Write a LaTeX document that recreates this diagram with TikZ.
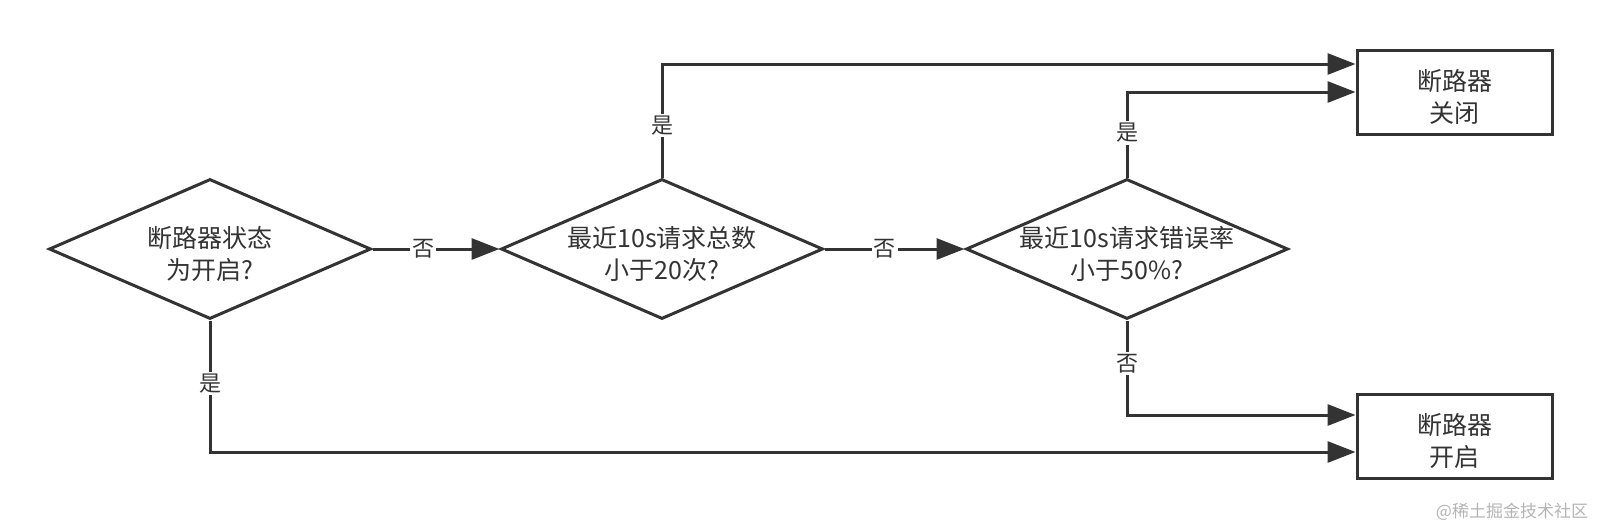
\documentclass[tikz,border=0pt]{standalone}
\usepackage{fontspec}
\setmainfont{Noto Sans CJK SC}
\usetikzlibrary{shapes.geometric,arrows.meta,calc}
\definecolor{ink}{HTML}{333333}
\definecolor{wmark}{HTML}{B4B4B4}
\begin{document}
\begin{tikzpicture}[x=1pt,y=-1pt,
  dec/.style={diamond, draw=ink, line width=3pt, minimum width=322pt, minimum height=140pt, inner sep=0pt, fill=white},
  res/.style={rectangle, draw=ink, line width=3pt, minimum width=195pt, minimum height=84pt, inner sep=0pt},
  txt/.style={align=center, text=ink, font=\fontsize{25}{32}\selectfont, inner sep=0pt},
  lbl/.style={fill=white, inner sep=2pt, text=ink, font=\fontsize{22}{24}\selectfont},
  arr/.style={draw=ink, line width=3pt, -{Triangle[length=28pt,width=21pt]}}]
\useasboundingbox (0,0) rectangle (1601,528);
% decisions
\node[dec] (d1) at (210,249) {};
\node[txt,yshift=-5pt] (t1) at (d1) {断路器状态\\为开启?};
\node[dec] (d2) at (662,249) {};
\node[txt,yshift=-5pt] (t2) at (d2) {最近10s请求总数\\小于20次?};
\node[dec] (d3) at (1127,249) {};
\node[txt,yshift=-5pt] (t3) at (d3) {最近10s请求错误率\\小于50\%?};
% results
\node[res] (b1) at (1454.5,92) {};
\node[txt,yshift=-5pt] (tb1) at (b1) {断路器\\关闭};
\node[res] (b2) at (1454.5,436) {};
\node[txt,yshift=-5pt] (tb2) at (b2) {断路器\\开启};
% entry points
\coordinate (b1a) at ([yshift=28pt]b1.west);
\coordinate (b1b) at (b1.west);
\coordinate (b2a) at ([yshift=21pt]b2.west);
\coordinate (b2b) at ([yshift=-16pt]b2.west);
% connectors
\draw[arr] (d1.east) -- node[lbl,pos=0.4]{否} (d2.west);
\draw[arr] (d2.east) -- node[lbl,pos=0.43]{否} (d3.west);
\draw[arr] (d2.north) |- node[lbl,pos=0.23]{是} (b1a);
\draw[arr] (d3.north) |- node[lbl,pos=0.26]{是} (b1b);
\draw[arr] (d3.south) |- node[lbl,pos=0.23]{否} (b2a);
\draw[arr] (d1.south) |- node[lbl,pos=0.24]{是} (b2b);
% watermark
\node[text=wmark, font=\fontsize{17}{20}\selectfont, inner sep=0pt] (wm) at (1512,512) {@稀土掘金技术社区};
\end{tikzpicture}
\end{document}
